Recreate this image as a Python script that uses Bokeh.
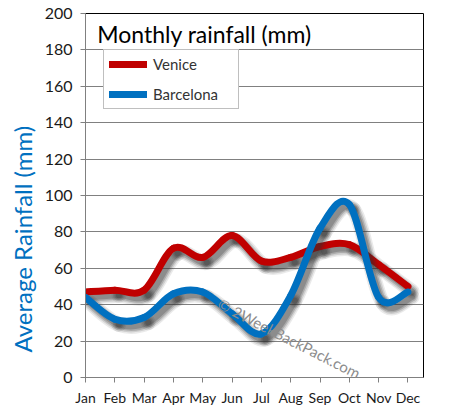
from bokeh.plotting import figure
from bokeh.models import Range1d, Label, Legend, LegendItem, Title, ColumnDataSource
from bokeh.embed import file_html
from bokeh.resources import INLINE

months = ["Jan", "Feb", "Mar", "Apr", "May", "Jun", "Jul", "Aug", "Sep", "Oct", "Nov", "Dec"]
venice = [47, 48, 48, 71, 66, 78, 64, 66, 72, 73, 62, 50]
barcelona = [44, 32, 33, 46, 47, 35, 24, 45, 82, 95, 44, 47]
y_ticks = [0, 20, 40, 60, 80, 100, 120, 140, 160, 180, 200]

FONT = "Lato"
RED = "#C00000"
BLUE = "#0070C0"


def smooth_source(ys, dx=0.0, dy=0.0):
    """Bezier segments (Excel-like smoothing) through the data points."""
    xs = list(range(len(ys)))
    n = len(xs)
    d = dict(x0=[], y0=[], x1=[], y1=[], cx0=[], cy0=[], cx1=[], cy1=[])
    for i in range(n - 1):
        pm = max(i - 1, 0)
        pp = min(i + 2, n - 1)
        d["x0"].append(xs[i] + dx)
        d["y0"].append(ys[i] + dy)
        d["x1"].append(xs[i + 1] + dx)
        d["y1"].append(ys[i + 1] + dy)
        d["cx0"].append(xs[i] + (xs[i + 1] - xs[pm]) / 6 + dx)
        d["cy0"].append(ys[i] + (ys[i + 1] - ys[pm]) / 6 + dy)
        d["cx1"].append(xs[i + 1] - (xs[pp] - xs[i]) / 6 + dx)
        d["cy1"].append(ys[i + 1] - (ys[pp] - ys[i]) / 6 + dy)
    return ColumnDataSource(d)


p = figure(width=435, height=408, x_range=Range1d(0, 11.53), y_range=Range1d(0, 200),
           output_backend="svg", toolbar_location=None,
           min_border_left=76, min_border_right=12, min_border_top=13, min_border_bottom=31)

p.background_fill_color = "white"
p.border_fill_color = "white"
p.outline_line_color = "black"
p.outline_line_width = 1

# axes
p.xaxis.ticker = list(range(len(months)))
p.xaxis.major_label_overrides = {i: m for i, m in enumerate(months)}
p.yaxis.ticker = y_ticks
for ax in (p.xaxis, p.yaxis):
    ax.axis_line_color = "#808080"
    ax.major_tick_line_color = "#808080"
    ax.major_tick_in = 0
    ax.major_tick_out = 5
    ax.minor_tick_line_color = None
    ax.major_label_text_font = FONT
    ax.major_label_text_color = "#1a1a1a"
p.xaxis.major_label_text_font_size = "14px"
p.yaxis.major_label_text_font_size = "16px"
p.xaxis.major_label_standoff = 6
p.yaxis.major_label_standoff = 8

p.xgrid.visible = False
p.ygrid.grid_line_color = "#808080"
p.ygrid.grid_line_width = 1

# shadows + lines
dx = 0.14
dy = -2.8
shadow_layers = [(15, 0.10), (12, 0.15), (9, 0.22), (6, 0.25)]

renderers = {}
for name, vals, col in (("Venice", venice, RED), ("Barcelona", barcelona, BLUE)):
    sh = smooth_source(vals, dx, dy)
    for w, a in shadow_layers:
        p.bezier("x0", "y0", "x1", "y1", "cx0", "cy0", "cx1", "cy1", source=sh,
                 line_color="#303030", line_alpha=a, line_width=w, line_cap="round")
    src = smooth_source(vals)
    renderers[name] = p.bezier("x0", "y0", "x1", "y1", "cx0", "cy0", "cx1", "cy1", source=src,
                               line_color=col, line_width=7, line_cap="round")

legend = Legend(items=[LegendItem(label="Venice", renderers=[renderers["Venice"]]),
                       LegendItem(label="Barcelona", renderers=[renderers["Barcelona"]])],
                location=(18, 268))
legend.border_line_color = "#808080"
legend.border_line_width = 1
legend.background_fill_color = "white"
legend.background_fill_alpha = 1
legend.label_text_font = FONT
legend.label_text_font_size = "15px"
legend.label_text_color = "#333333"
legend.glyph_width = 38
legend.glyph_height = 16
legend.label_height = 16
legend.label_width = 80
legend.spacing = 12
legend.padding = 5
legend.margin = 0
legend.label_standoff = 6
p.add_layout(legend)

# chart title inside the plot
p.add_layout(Label(x=0.4, y=196.5, text="Monthly rainfall (mm)", text_font=FONT,
                   text_font_size="23px", text_color="black", text_baseline="top",
                   text_align="left"))

# watermark
p.add_layout(Label(x=6.95, y=21.5, text="\u00a9 2WeekBackPack.com", text_font=FONT,
                   text_font_size="15px", text_color="#8c8c8c", angle=-0.47,
                   text_align="center", text_baseline="middle"))

# y axis title
p.add_layout(Title(text="Average Rainfall (mm)", align="left", text_font=FONT,
                   text_font_size="24px", text_font_style="normal", text_color=BLUE,
                   offset=25), "left")

open("out.html", "w").write(file_html(p, INLINE))
